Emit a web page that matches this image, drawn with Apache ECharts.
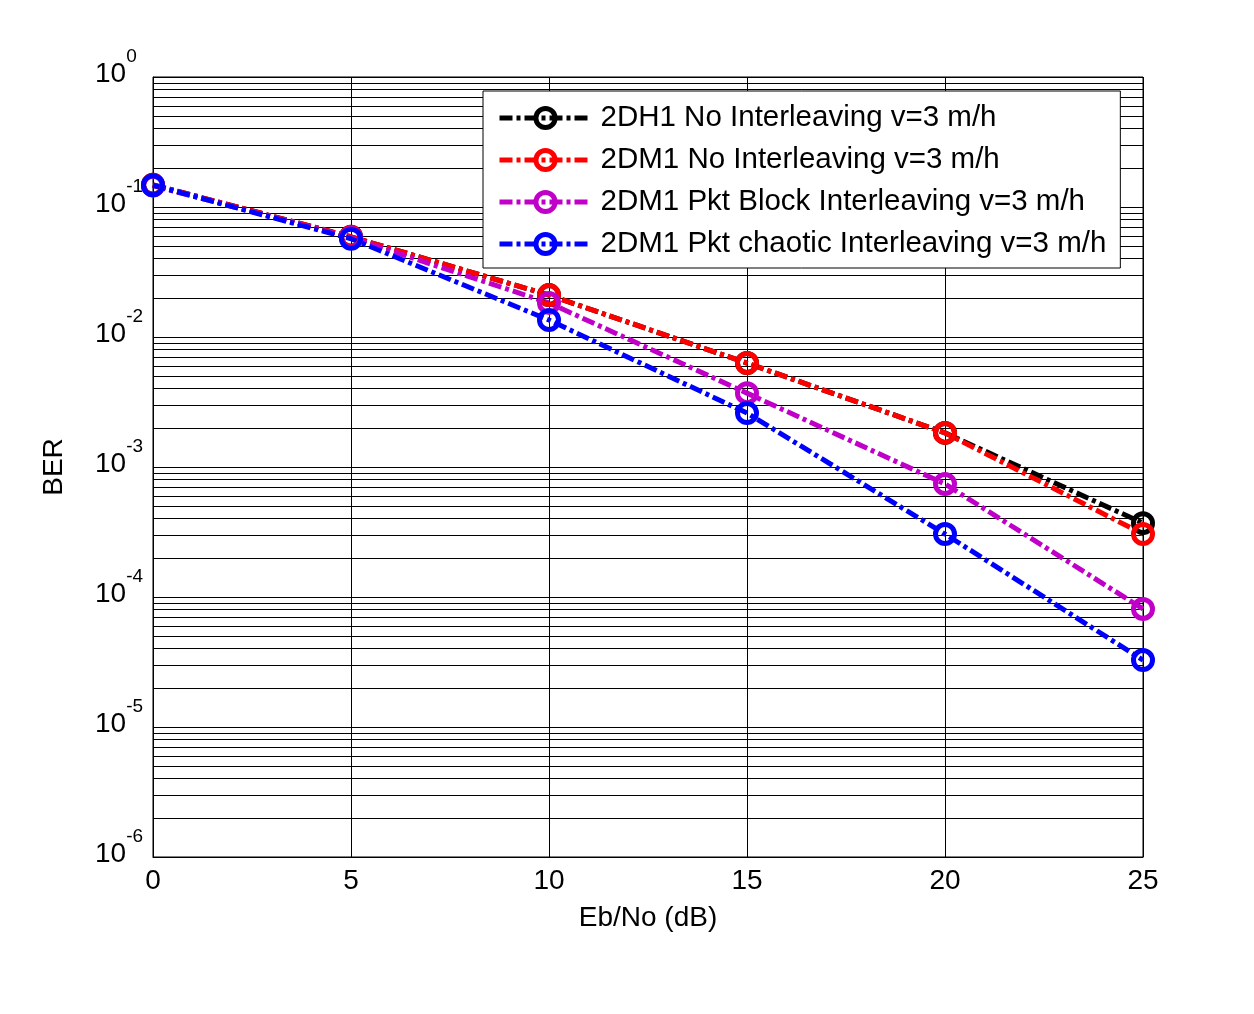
<!DOCTYPE html>
<html>
<head>
<meta charset="utf-8">
<script src="https://cdn.jsdelivr.net/npm/echarts@6/dist/echarts.min.js"></script>
<style>
  html, body { margin: 0; padding: 0; background: #fff; }
  #chart { width: 1254px; height: 1014px; }
</style>
</head>
<body>
<div id="chart"></div>
<script>
// Eb/No in dB
var ebno = [0, 5, 10, 15, 20, 25];
// BER values
var berDH1NoIlv = [0.148, 0.059, 0.021, 0.0063, 0.00183, 0.00037];
var berDM1NoIlv = [0.148, 0.059, 0.021, 0.0063, 0.00183, 0.000305];
var berDM1Block = [0.146, 0.058, 0.0183, 0.0037, 0.00074, 0.000081];
var berDM1Chaotic = [0.147, 0.057, 0.0135, 0.0026, 0.000305, 0.0000327];

var seriesNames = [
    '2DH1 No Interleaving v=3 m/h',
    '2DM1 No Interleaving v=3 m/h',
    '2DM1 Pkt Block Interleaving v=3 m/h',
    '2DM1 Pkt chaotic Interleaving v=3 m/h'
];
var seriesColors = ['#000000', '#ff0000', '#c000c8', '#0000ff'];

// log minor grid (2..9 x 10^d)
var minorGrid = [];
for (var d = -6; d < 0; d++) {
    for (var k = 2; k <= 9; k++) {
        minorGrid.push(k * Math.pow(10, d));
    }
}

var font = "'Liberation Sans', Arial, Helvetica, sans-serif";
var dash = [13, 4, 4, 4];

function makeSeries(name, values, color) {
    return {
        name: name,
        type: 'line',
        data: ebno.map(function (x, i) { return [x, values[i]]; }),
        symbol: 'circle',
        symbolSize: 19,
        color: color,
        lineStyle: { color: color, width: 5, type: dash, cap: 'butt' },
        itemStyle: { color: 'rgba(0,0,0,0)', borderColor: color, borderWidth: 5 },
        emphasis: { disabled: true },
        z: 3
    };
}

var chart = echarts.init(document.getElementById('chart'));
chart.setOption({
    animation: false,
    backgroundColor: '#fff',
    textStyle: { fontFamily: font },
    grid: {
        left: 153, right: 111, top: 77, bottom: 157,
        show: true, borderColor: '#000', borderWidth: 1
    },
    legend: {
        data: seriesNames,
        orient: 'vertical',
        left: 483,
        top: 91,
        padding: [12, 14, 9, 14],
        itemWidth: 92,
        itemHeight: 24,
        itemGap: 12,
        z: 10,
        backgroundColor: '#fff',
        borderColor: '#000',
        borderWidth: 1,
        borderRadius: 0,
        lineStyle: { width: 5, type: dash },
        itemStyle: { borderWidth: 5 },
        textStyle: { fontSize: 29.5, lineHeight: 30, color: '#000', fontFamily: font, padding: [0, 0, 0, 4] }
    },
    xAxis: {
        type: 'value',
        min: 0, max: 25, interval: 5,
        name: 'Eb/No (dB)',
        nameLocation: 'middle',
        nameGap: 47,
        nameTextStyle: { fontSize: 28, color: '#000', fontFamily: font },
        axisLine: { lineStyle: { color: '#000', width: 1 } },
        axisTick: { inside: true, length: 6, lineStyle: { color: '#000' } },
        axisLabel: { fontSize: 28, color: '#000', margin: 10, fontFamily: font },
        splitLine: { show: true, lineStyle: { color: '#000', width: 1, type: 'solid' } }
    },
    yAxis: {
        type: 'log',
        logBase: 10,
        min: 1e-6, max: 1,
        splitNumber: 6,
        name: 'BER',
        nameLocation: 'middle',
        nameGap: 85,
        nameTextStyle: { fontSize: 28, color: '#000', fontFamily: font },
        axisLine: { lineStyle: { color: '#000', width: 1 } },
        axisTick: { inside: true, length: 6, lineStyle: { color: '#000' } },
        axisLabel: {
            align: 'left',
            margin: 58,
            formatter: function (v) {
                return '{b|10}{s|' + Math.round(Math.log10(v)) + '}';
            },
            rich: {
                b: { fontSize: 28, lineHeight: 60, color: '#000', fontFamily: font, padding: [0, 0, 6, 0] },
                s: { fontSize: 19, lineHeight: 20, verticalAlign: 'top', color: '#000', fontFamily: font }
            }
        },
        splitLine: { show: true, lineStyle: { color: '#000', width: 1, type: 'solid' } }
    },
    series: [
        {
            name: 'grid',
            type: 'line',
            data: [],
            silent: true,
            z: 1,
            markLine: {
                silent: true,
                z: 1,
                precision: 12,
                symbol: ['none', 'none'],
                label: { show: false },
                lineStyle: { color: '#000', width: 1, type: 'solid' },
                emphasis: { disabled: true },
                data: minorGrid.map(function (v) { return { yAxis: v }; })
            }
        },
        makeSeries(seriesNames[0], berDH1NoIlv, seriesColors[0]),
        makeSeries(seriesNames[1], berDM1NoIlv, seriesColors[1]),
        makeSeries(seriesNames[2], berDM1Block, seriesColors[2]),
        makeSeries(seriesNames[3], berDM1Chaotic, seriesColors[3])
    ]
});
</script>
</body>
</html>
